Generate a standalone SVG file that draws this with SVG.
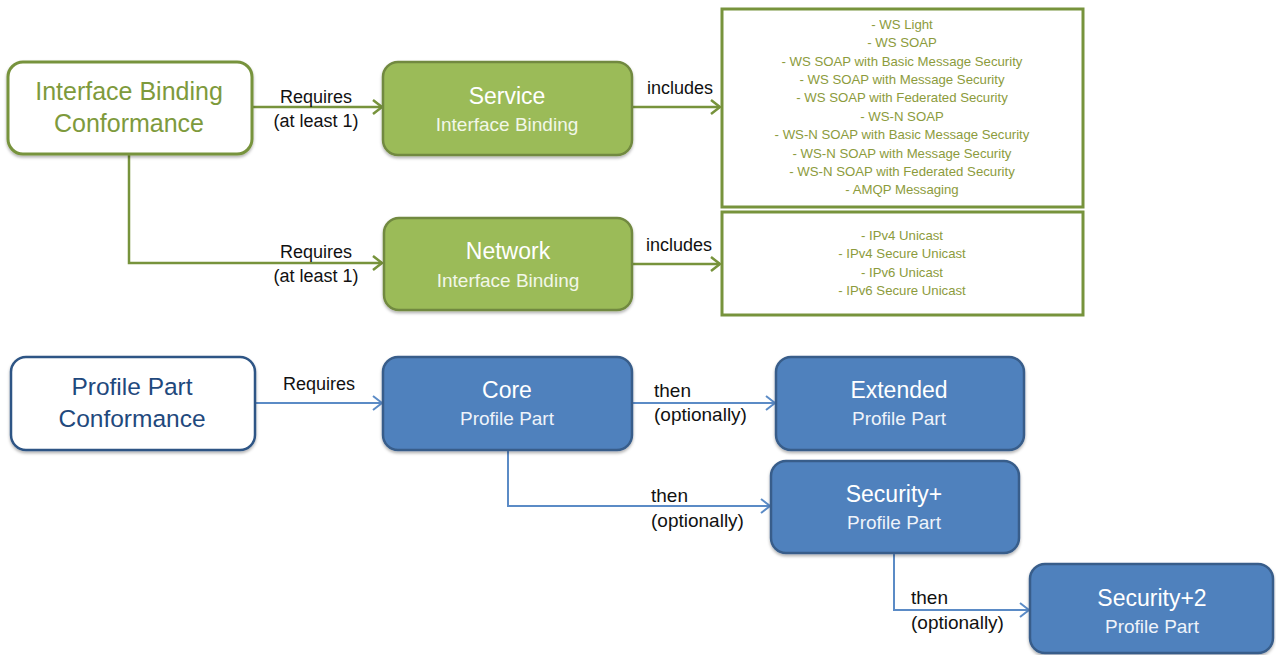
<svg xmlns="http://www.w3.org/2000/svg" width="1276" height="655" viewBox="0 0 1276 655">
<style>
  text { font-family: "Liberation Sans", Arial, sans-serif; text-anchor: middle; }
  .gconf { fill: #fff; stroke: #77933C; stroke-width: 3; }
  .gbox { fill: #9BBB59; stroke: #71893F; stroke-width: 2.5; }
  .glist { fill: #fff; stroke: #77933C; stroke-width: 3; }
  .bconf { fill: #fff; stroke: #2E5585; stroke-width: 2.5; }
  .bbox { fill: #4F81BD; stroke: #385D8A; stroke-width: 2.5; }
  .gcl { fill: none; stroke: #77933C; stroke-width: 2.5; }
  .bcl { fill: none; stroke: #5B8BC6; stroke-width: 2; }
  .gtitle { fill: #7E9A3C; font-size: 25px; }
  .btitle { fill: #1F497D; font-size: 24.5px; }
  .wt { fill: #fff; font-size: 23px; }
  .ws { fill: #F2F7E8; font-size: 19px; }
  .wsb { fill: #EEF3FA; font-size: 19px; }
  .lbl { fill: #111; font-size: 18px; }
  .lbll { fill: #111; font-size: 19px; text-anchor: start; }
  .li { fill: #8C9B3C; font-size: 13.2px; }
</style>
<defs>
  <marker id="ag" markerUnits="userSpaceOnUse" markerWidth="14" markerHeight="18" refX="11" refY="8" orient="auto">
    <path d="M2,1 L11,8 L2,15" fill="none" stroke="#77933C" stroke-width="2.5"/>
  </marker>
  <marker id="ab" markerUnits="userSpaceOnUse" markerWidth="14" markerHeight="18" refX="11" refY="8" orient="auto">
    <path d="M2,1 L11,8 L2,15" fill="none" stroke="#5B8BC6" stroke-width="2"/>
  </marker>
  <filter id="sh" x="-10%" y="-10%" width="120%" height="130%">
    <feDropShadow dx="0" dy="2" stdDeviation="1.5" flood-color="#000" flood-opacity="0.3"/>
  </filter>
</defs>

<g id="connectors">
  <path class="gcl" d="M252,107 H382" marker-end="url(#ag)"/>
  <path class="gcl" d="M632,107 H720" marker-end="url(#ag)"/>
  <path class="gcl" d="M129,154 V263 H382" marker-end="url(#ag)"/>
  <path class="gcl" d="M632,264 H720" marker-end="url(#ag)"/>
  <path class="bcl" d="M255,403 H382" marker-end="url(#ab)"/>
  <path class="bcl" d="M632,403 H775" marker-end="url(#ab)"/>
  <path class="bcl" d="M508,450 V506 H770" marker-end="url(#ab)"/>
  <path class="bcl" d="M894,553 V610 H1029" marker-end="url(#ab)"/>
  <text class="lbl" x="316" y="103">Requires</text>
  <text class="lbl" x="316" y="127">(at least 1)</text>
  <text class="lbl" x="680" y="94">includes</text>
  <text class="lbl" x="316" y="258">Requires</text>
  <text class="lbl" x="316" y="282">(at least 1)</text>
  <text class="lbl" x="679" y="251">includes</text>
  <text class="lbl" x="319" y="390">Requires</text>
  <text class="lbll" x="654" y="397">then</text>
  <text class="lbll" x="654" y="421">(optionally)</text>
  <text class="lbll" x="651" y="502">then</text>
  <text class="lbll" x="651" y="527">(optionally)</text>
  <text class="lbll" x="911" y="604">then</text>
  <text class="lbll" x="911" y="629">(optionally)</text>
</g>

<g id="interface-binding-conformance">
  <rect class="gconf" x="8" y="62" width="244" height="92" rx="15" filter="url(#sh)"/>
  <text class="gtitle" x="129" y="100">Interface Binding</text>
  <text class="gtitle" x="129" y="132">Conformance</text>
</g>

<g id="service">
  <rect class="gbox" x="383" y="62" width="249" height="93" rx="15" filter="url(#sh)"/>
  <text class="wt" x="507" y="104">Service</text>
  <text class="ws" x="507" y="131">Interface Binding</text>
</g>

<g id="service-list">
  <rect class="glist" x="722" y="9" width="361" height="198"/>
  <text class="li" x="902" y="29">- WS Light</text>
  <text class="li" x="902" y="47">- WS SOAP</text>
  <text class="li" x="902" y="66">- WS SOAP with Basic Message Security</text>
  <text class="li" x="902" y="84">- WS SOAP with Message Security</text>
  <text class="li" x="902" y="102">- WS SOAP with Federated Security</text>
  <text class="li" x="902" y="121">- WS-N SOAP</text>
  <text class="li" x="902" y="139">- WS-N SOAP with Basic Message Security</text>
  <text class="li" x="902" y="158">- WS-N SOAP with Message Security</text>
  <text class="li" x="902" y="176">- WS-N SOAP with Federated Security</text>
  <text class="li" x="902" y="194">- AMQP Messaging</text>
</g>

<g id="network">
  <rect class="gbox" x="384" y="218" width="248" height="92" rx="15" filter="url(#sh)"/>
  <text class="wt" x="508" y="259">Network</text>
  <text class="ws" x="508" y="287">Interface Binding</text>
</g>

<g id="network-list">
  <rect class="glist" x="722" y="212" width="361" height="103"/>
  <text class="li" x="902" y="240">- IPv4 Unicast</text>
  <text class="li" x="902" y="258">- IPv4 Secure Unicast</text>
  <text class="li" x="902" y="277">- IPv6 Unicast</text>
  <text class="li" x="902" y="295">- IPv6 Secure Unicast</text>
</g>

<g id="profile-part-conformance">
  <rect class="bconf" x="11" y="357" width="244" height="93" rx="15" filter="url(#sh)"/>
  <text class="btitle" x="132" y="395">Profile Part</text>
  <text class="btitle" x="132" y="427">Conformance</text>
</g>

<g id="core">
  <rect class="bbox" x="383" y="357" width="249" height="93" rx="15" filter="url(#sh)"/>
  <text class="wt" x="507" y="398">Core</text>
  <text class="wsb" x="507" y="425">Profile Part</text>
</g>

<g id="extended">
  <rect class="bbox" x="776" y="357" width="248" height="93" rx="15" filter="url(#sh)"/>
  <text class="wt" x="899" y="398">Extended</text>
  <text class="wsb" x="899" y="425">Profile Part</text>
</g>

<g id="security-plus">
  <rect class="bbox" x="771" y="461" width="248" height="92" rx="15" filter="url(#sh)"/>
  <text class="wt" x="894" y="502">Security+</text>
  <text class="wsb" x="894" y="529">Profile Part</text>
</g>

<g id="security-plus-2">
  <rect class="bbox" x="1030" y="564" width="243" height="89" rx="15" filter="url(#sh)"/>
  <text class="wt" x="1152" y="606">Security+2</text>
  <text class="wsb" x="1152" y="633">Profile Part</text>
</g>
</svg>
